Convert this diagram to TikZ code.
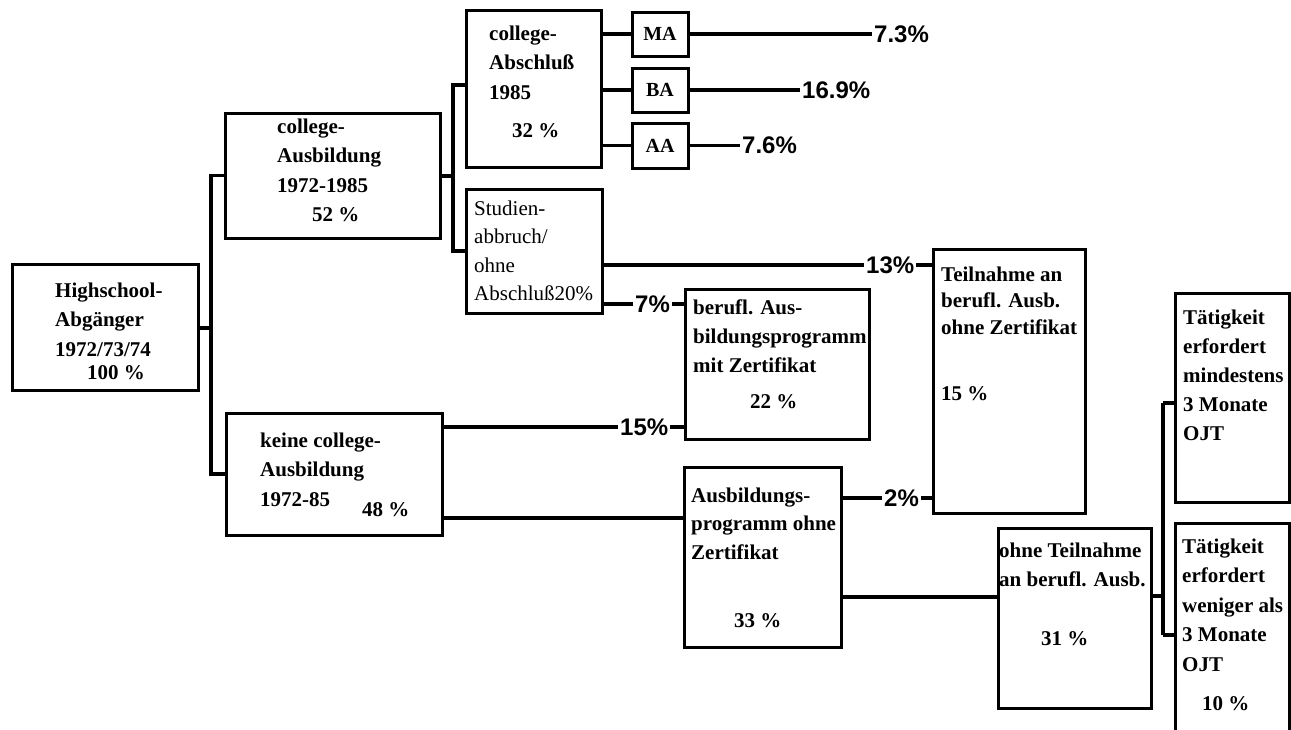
\documentclass[tikz,border=0pt]{standalone}
\usepackage{fontspec}
\setmainfont{Liberation Serif}
\newfontfamily\labfont{Liberation Sans}
\usetikzlibrary{fit}
\begin{document}
\begin{tikzpicture}[x=1pt,y=-1pt,
  box/.style={draw, inner sep=0pt, line width=3pt},
  sbox/.style={draw, inner sep=0pt, line width=3pt, minimum width=56pt, minimum height=44pt, font=\bfseries\fontsize{20}{20}\selectfont},
  txt/.style={anchor=north west, inner sep=0pt, align=left, font=\bfseries\fontsize{21}{29.5}\selectfont},
  pct/.style={anchor=west, inner sep=2pt, font=\labfont\bfseries\fontsize{24}{24}\selectfont},
  con/.style={line width=3.4pt}]
\fill[white] (0,0) rectangle (1291,729);
\useasboundingbox (0,0) rectangle (1291,729);

% boxes
\node[box, fit={(12,264) (198,390)}] (hs) {};
\node[box, fit={(225,113) (440,238)}] (col) {};
\node[box, fit={(226,413) (442,535)}] (kein) {};
\node[box, fit={(466,10) (601,167)}] (abs) {};
\node[sbox] (ma) at (660,34) {MA};
\node[sbox] (ba) at (660,90) {BA};
\node[sbox, minimum height=45pt] (aa) at (660,145.5) {AA};
\node[box, fit={(466,189) (602,313)}] (stud) {};
\node[box, fit={(685,289) (869,439)}] (beruf) {};
\node[box, fit={(933,249) (1085,513)}] (teil) {};
\node[box, fit={(684,467) (841,647)}] (ausb) {};
\node[box, fit={(998,528) (1151,708)}] (ohne) {};
\node[box, fit={(1175,293) (1289,502)}] (tmin) {};
\node[box, fit={(1175,523) (1289,745)}] (twen) {};

% texts
\node[txt] (hst) at (55,282.5) {Highschool-\\Abgänger\\1972/73/74\\[-6pt]\hspace*{32pt}100 \%};
\node[txt] (colt) at (277,118.5) {college-\\Ausbildung\\1972-1985\\\hspace*{35pt}52 \%};
\node[txt] (keint) at (260,432.5) {keine college-\\Ausbildung\\\makebox[102pt][l]{1972-85}\raisebox{-10pt}{48 \%}};
\node[txt] (abst) at (489,25.5) {college-\\Abschluß\\1985\\[9pt]\hspace*{23pt}32 \%};
\node[txt, font=\fontsize{21}{28.5}\selectfont] (studt) at (474,200.5) {Studien-\\abbruch/\\ohne\\Abschluß20\%};
\node[txt, font=\bfseries\fontsize{21}{29}\selectfont] (beruft) at (693,299.5) {berufl. Aus-\\bildungsprogramm\\mit Zertifikat\\[7pt]\hspace*{57pt}22 \%};
\node[txt, font=\bfseries\fontsize{21}{26.5}\selectfont] (teilt) at (941,266.5) {Teilnahme an\\berufl. Ausb.\\ohne Zertifikat\\[39.5pt]15 \%};
\node[txt, font=\bfseries\fontsize{21}{28.5}\selectfont] (ausbt) at (691,487.5) {Ausbildungs-\\programm ohne\\Zertifikat\\[40pt]\hspace*{43pt}33 \%};
\node[txt, font=\bfseries\fontsize{21}{29}\selectfont] (ohnet) at (999,542.5) {ohne Teilnahme\\an berufl. Ausb.\\[30pt]\hspace*{42pt}31 \%};
\node[txt, font=\bfseries\fontsize{21}{29}\selectfont] (tmint) at (1183,309.5) {Tätigkeit\\erfordert\\mindestens\\3 Monate\\OJT};
\node[txt] (twent) at (1182,538.5) {Tätigkeit\\erfordert\\weniger als\\3 Monate\\OJT\\[10pt]\hspace*{20pt}10 \%};

% percentage labels
\node[pct] (l73) at (872,34) {7.3\%};
\node[pct] (l169) at (800,90) {16.9\%};
\node[pct] (l76) at (740,145.5) {7.6\%};
\node[pct] (l13) at (864,265) {13\%};
\node[pct] (l7) at (633,304) {7\%};
\node[pct] (l15) at (618,427) {15\%};
\node[pct] (l2) at (882,498) {2\%};

% connectors
\coordinate (j1) at (211,328);
\draw[con] (hs.east |- j1) -- (j1);
\draw[con] (j1) |- (col.west);
\draw[con] (j1) |- (kein.west);

\coordinate (j2) at (453,176);
\coordinate (j2a) at (453,85);
\draw[con] (col.east |- j2) -- (j2);
\draw[con] (j2) -- (j2a) -- (abs.west |- j2a);
\draw[con] (j2) |- (stud.west);

\draw[con] (abs.east |- ma.west) -- (ma.west);
\draw[con] (abs.east |- ba.west) -- (ba.west);
\draw[con] (abs.east |- aa.west) -- (aa.west);
\draw[con] (ma.east) -- (l73.west);
\draw[con] (ba.east) -- (l169.west);
\draw[con] (aa.east) -- (l76.west);

\draw[con] (stud.east |- l13.west) -- (l13.west);
\draw[con] (l13.east) -- (teil.west |- l13.east);
\draw[con] (stud.east |- l7.west) -- (l7.west);
\draw[con] (l7.east) -- (beruf.west |- l7.east);
\draw[con] (kein.east |- l15.west) -- (l15.west);
\draw[con] (l15.east) -- (beruf.west |- l15.east);

\coordinate (y518) at (0,518);
\draw[con] (kein.east |- y518) -- (ausb.west |- y518);
\draw[con] (ausb.east |- l2.west) -- (l2.west);
\draw[con] (l2.east) -- (teil.west |- l2.east);

\coordinate (y597) at (0,597);
\draw[con] (ausb.east |- y597) -- (ohne.west |- y597);
\coordinate (j3) at (1163,596);
\coordinate (j3a) at (1163,403);
\coordinate (j3b) at (1163,635);
\draw[con] (ohne.east |- j3) -- (j3);
\draw[con] (j3a) -- (j3b);
\draw[con] (j3a) -- (tmin.west |- j3a);
\draw[con] (j3b) -- (twen.west |- j3b);
\end{tikzpicture}
\end{document}
